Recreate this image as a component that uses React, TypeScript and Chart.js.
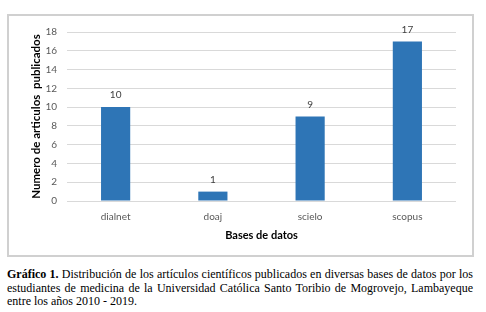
import React, { useEffect, useRef } from "react";
import { Chart, registerables } from "chart.js";

Chart.register(...registerables);

const categories = ["dialnet", "doaj", "scielo", "scopus"];
const articleCounts = [10, 1, 9, 17];
const yTitle = "Numero de articulos  publicados";
const xTitle = "Bases de datos";
const captionBold = "Gráfico 1.";
const captionLines = [
  " Distribución de los artículos científicos publicados en diversas bases de datos por los",
  "estudiantes de medicina de la Universidad Católica Santo Toribio de Mogrovejo, Lambayeque",
  "entre los años 2010 - 2019.",
];

const FONT = "Lato, 'Open Sans', sans-serif";

const valueLabels = {
  id: "valueLabels",
  afterDatasetsDraw(chart: any) {
    const ctx = chart.ctx;
    const meta = chart.getDatasetMeta(0);
    const data = chart.data.datasets[0].data;
    ctx.save();
    ctx.font = `10px ${FONT}`;
    ctx.fillStyle = "#404040";
    ctx.textAlign = "center";
    ctx.textBaseline = "middle";
    meta.data.forEach((bar: any, i: number) => {
      ctx.fillText(String(data[i]), bar.x, bar.y - 12);
    });
    ctx.restore();
  },
};

export default function App() {
  const ref = useRef<HTMLCanvasElement>(null);
  useEffect(() => {
    if (!ref.current) return;
    const chart = new Chart(ref.current, {
      type: "bar",
      data: {
        labels: categories,
        datasets: [
          {
            data: articleCounts,
            backgroundColor: "#2E75B6",
            barPercentage: 0.3,
            categoryPercentage: 1,
          },
        ],
      },
      options: {
        responsive: false,
        animation: false,
        devicePixelRatio: 1,
        layout: { padding: { top: 15, right: 16, bottom: 0, left: 0 } },
        plugins: { legend: { display: false }, tooltip: { enabled: false } },
        scales: {
          x: {
            grid: { display: false, drawTicks: false },
            border: { display: false },
            ticks: { color: "#595959", font: { family: FONT, size: 10 }, padding: 10 },
            title: {
              display: true,
              text: xTitle,
              color: "#000",
              font: { family: FONT, size: 11, weight: "bold" },
              padding: { top: 0, bottom: 13 },
            },
            afterFit: (s: any) => {
              s.height = 54;
            },
          },
          y: {
            min: 0,
            max: 18,
            grid: { color: "#d9d9d9", drawTicks: false },
            border: { display: false },
            ticks: {
              stepSize: 2,
              color: "#595959",
              font: { family: FONT, size: 10 },
              padding: 10,
            },
            title: {
              display: true,
              text: yTitle,
              color: "#000",
              font: { family: FONT, size: 11.5, weight: "bold" },
              padding: { top: 20, bottom: 0 },
            },
            afterFit: (s: any) => {
              s.width = 58;
            },
          },
        },
      },
      plugins: [valueLabels],
    });
    return () => chart.destroy();
  }, []);

  return (
    <div style={{ position: "absolute", left: 0, top: 0, width: 486, height: 312, background: "#fff" }}>
      <div
        style={{
          position: "absolute",
          left: 7,
          top: 14,
          width: 467,
          height: 243,
          border: "2px solid #d0d0d0",
          boxSizing: "border-box",
        }}
      >
        <canvas ref={ref} width={463} height={239} style={{ display: "block" }} />
      </div>
      <div
        style={{
          position: "absolute",
          left: 7,
          top: 268,
          width: 466,
          fontFamily: "'Liberation Serif', 'Times New Roman', serif",
          fontSize: 12,
          lineHeight: "13.5px",
          color: "#000",
        }}
      >
        <div style={{ textAlign: "justify", textAlignLast: "justify", whiteSpace: "nowrap" }}>
          <b>{captionBold}</b>
          {captionLines[0]}
        </div>
        <div style={{ textAlign: "justify", textAlignLast: "justify", whiteSpace: "nowrap" }}>
          {captionLines[1]}
        </div>
        <div style={{ whiteSpace: "nowrap" }}>{captionLines[2]}</div>
      </div>
    </div>
  );
}
